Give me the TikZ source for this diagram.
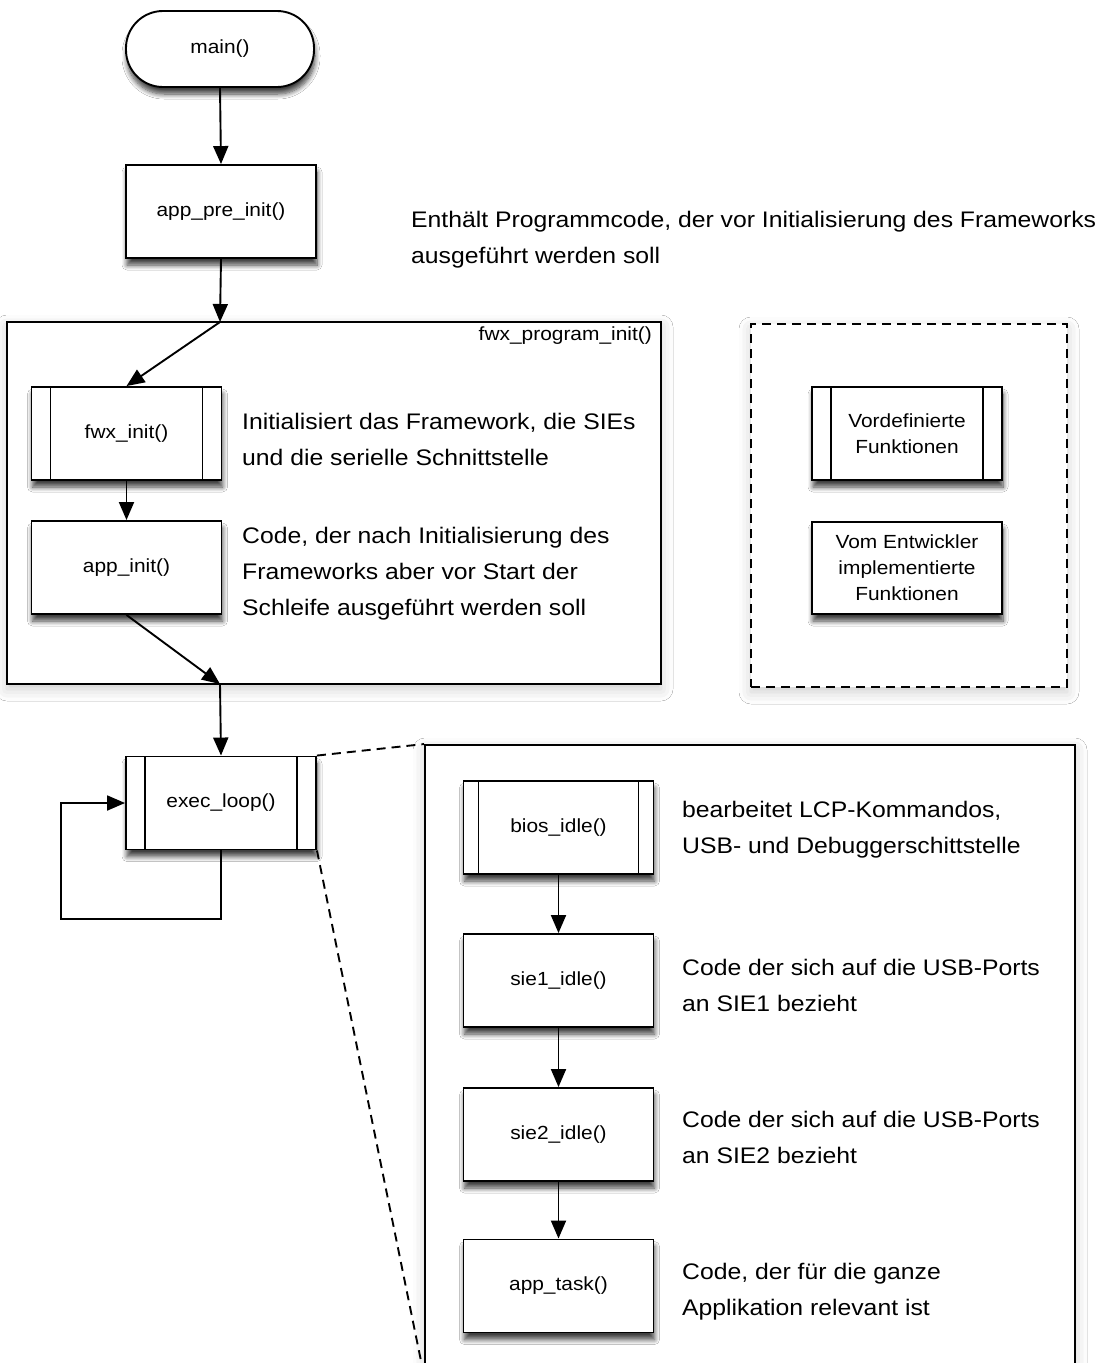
\documentclass[tikz,border=0pt]{standalone}
\usepackage{fontspec}
\setmainfont[FakeStretch=1.1]{Liberation Sans}
\usetikzlibrary{arrows.meta,shadows.blur}
\begin{document}
\begin{tikzpicture}[x=1pt,y=-1pt,
  lw/.style={line width=1.9pt},
  box/.style={draw, lw, fill=white, minimum width=190pt, minimum height=93pt, inner sep=0pt,
    font=\fontsize{19}{26}\selectfont, align=center,
    blur shadow={shadow xshift=1pt, shadow yshift=-7pt, shadow blur radius=5pt, shadow blur steps=8, shadow opacity=75}},
  predef/.style={box, path picture={
    \draw[lw] ([xshift=#1]path picture bounding box.north west) -- ([xshift=#1]path picture bounding box.south west);
    \draw[lw] ([xshift=-#1]path picture bounding box.north east) -- ([xshift=-#1]path picture bounding box.south east);}},
  predef/.default=19pt,
  desc/.style={align=left, anchor=west, inner sep=0pt, font=\fontsize{22.5}{36}\selectfont},
  arr/.style={lw, -{Triangle[length=18pt,width=15pt]}},
  frame/.style={draw, lw, fill=white, inner sep=0pt,
    blur shadow={shadow xshift=0pt, shadow yshift=-5pt, shadow blur radius=12pt, shadow opacity=20}},
  dashframe/.style={frame, dash pattern=on 9pt off 6pt}
]
\useasboundingbox (0,0) rectangle (1107,1363);
\clip (0,0) rectangle (1107,1363);
\fill[white] (0,0) rectangle (1107,1363);

% frames
\node[frame, minimum width=654pt, minimum height=362pt] (fpi) at (334,503) {};
\node[dashframe, minimum width=316pt, minimum height=363pt] (legend) at (909,505.5) {};
\node[frame, minimum width=650pt, minimum height=630pt] (big) at (750,1060) {};

\node[anchor=north east, inner sep=1pt, font=\fontsize{19}{22}\selectfont] (fpilabel) at (653,326) {fwx\_program\_init()};

% main flow
\node[box, rounded corners=37pt, minimum width=188pt, minimum height=76pt] (main) at (220,49) {main()};
\node[box] (pre) at (221,211.5) {app\_pre\_init()};
\node[predef] (fwx) at (126.5,433.5) {fwx\_init()};
\node[box] (appinit) at (126.5,567.5) {app\_init()};
\node[predef] (exec) at (221,803) {exec\_loop()};

\coordinate (fin) at (220,322);
\coordinate (fout) at (220,684);
\coordinate (lc) at (61,919);

\draw[arr] (main.south) -- (pre.north);
\draw[arr] (pre.south) -- (fin);
\draw[arr] (fin) -- (fwx.north);
\draw[arr] (fwx.south) -- (appinit.north);
\draw[arr] (appinit.south) -- (fout);
\draw[arr] (fout) -- (exec.north);
\draw[arr] (exec.south) |- (lc) |- (exec.west);

% descriptions
\node[desc] (d0) at (411,240) {Enthält Programmcode, der vor Initialisierung des Frameworks\\ausgeführt werden soll};
\node[desc] (d1) at (242,439) {Initialisiert das Framework, die SIEs\\und die serielle Schnittstelle};
\node[desc] (d2) at (242,574) {Code, der nach Initialisierung des\\Frameworks aber vor Start der\\Schleife ausgeführt werden soll};

% legend
\node[predef] (lpre) at (907,433.5) {Vordefinierte\\Funktionen};
\node[box, minimum height=92pt] (ldev) at (907,568) {Vom Entwickler\\implementierte\\Funktionen};

% zoom lines
\draw[lw, dash pattern=on 9pt off 6pt] (exec.north east) -- (big.north west);
\draw[lw, dash pattern=on 9pt off 6pt] (exec.south east) -- (big.south west);

% loop detail
\node[predef=15pt] (bios) at (558.5,827.5) {bios\_idle()};
\node[box] (sie1) at (558.5,980.5) {sie1\_idle()};
\node[box] (sie2) at (558.5,1134.5) {sie2\_idle()};
\node[box] (task) at (558.5,1286) {app\_task()};

\draw[arr] (bios.south) -- (sie1.north);
\draw[arr] (sie1.south) -- (sie2.north);
\draw[arr] (sie2.south) -- (task.north);

\node[desc] (d3) at (682,830) {bearbeitet LCP-Kommandos,\\USB- und Debuggerschittstelle};
\node[desc] (d4) at (682,985) {Code der sich auf die USB-Ports\\an SIE1 bezieht};
\node[desc] (d5) at (682,1137) {Code der sich auf die USB-Ports\\an SIE2 bezieht};
\node[desc] (d6) at (682,1292) {Code, der für die ganze\\Applikation relevant ist};
\end{tikzpicture}
\end{document}
